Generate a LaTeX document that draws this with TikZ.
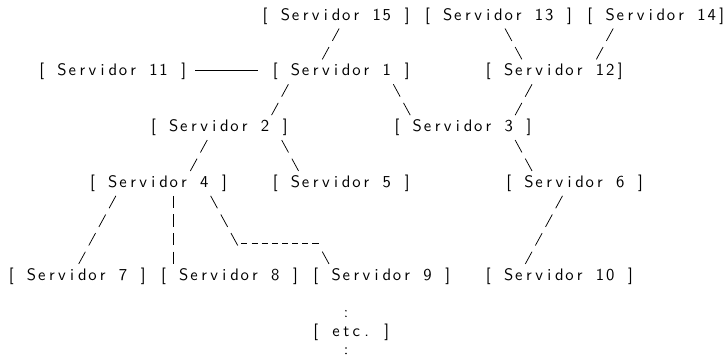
\documentclass[tikz,border=0pt]{standalone}
\usepackage{tikz}

% one fixed cell per character
\newlength\cellw
\setlength\cellw{6.09pt}
\def\cells#1{\cellsnext#1\relax}
\def\cellsnext#1{\ifx\relax#1\else\makebox[\cellw]{#1}\expandafter\cellsnext\fi}

\begin{document}
\begin{tikzpicture}[x=6.09pt, y=-11.16pt, every node/.style={font=\sffamily, inner sep=0pt, anchor=west}, slash/.style={line width=0.45pt, dash pattern=on 8.48pt off 4.24pt}, bar/.style={line width=0.45pt, dash pattern=on 7.44pt off 3.72pt}, hyph/.style={line width=0.45pt, dash pattern=on 3.65pt off 2.44pt}, colon/.style={line width=1pt, line cap=round, dash pattern=on 0pt off 3.3pt}]
	\useasboundingbox (-1.084,-0.86) rectangle (70.54,18.23);
	\node (s15) at (24.5,0) {\cells{[~Servidor~15~]}};
	\node (s13) at (40.5,0) {\cells{[~Servidor~13~]}};
	\node (s14) at (56.5,0) {\cells{[~Servidor~14]}};
	\node (s11) at (2.5,3) {\cells{[~Servidor~11~]}};
	\node (s1) at (25.5,3) {\cells{[~Servidor~1~]}};
	\node (s12) at (46.5,3) {\cells{[~Servidor~12]}};
	\node (s2) at (13.5,6) {\cells{[~Servidor~2~]}};
	\node (s3) at (37.5,6) {\cells{[~Servidor~3~]}};
	\node (s4) at (7.5,9) {\cells{[~Servidor~4~]}};
	\node (s5) at (25.5,9) {\cells{[~Servidor~5~]}};
	\node (s6) at (48.5,9) {\cells{[~Servidor~6~]}};
	\node (s7) at (-0.5,14) {\cells{[~Servidor~7~]}};
	\node (s8) at (14.5,14) {\cells{[~Servidor~8~]}};
	\node (s9) at (29.5,14) {\cells{[~Servidor~9~]}};
	\node (s10) at (46.5,14) {\cells{[~Servidor~10~]}};
	\node (etc) at (29.5,17) {\cells{[~etc.~]}};
	\coordinate (more) at (33,18.15);
	% slanted links
	\foreach \a/\ax/\ay/\b/\bx/\by in {s15/7.83/0.67/s1/5.17/-0.67, s13/8.17/0.67/s12/3.83/-0.67, s14/2.83/0.67/s12/11.17/-0.67, s1/1.83/0.67/s2/12.17/-0.67, s1/12.17/0.67/s3/1.83/-0.67, s12/4.83/0.67/s3/12.17/-0.67, s2/5.83/0.67/s4/10.17/-0.67, s2/13.17/0.67/s5/2.83/-0.67, s3/12.17/0.67/s6/2.83/-0.67, s4/2.83/0.67/s7/7.17/-0.67, s6/5.83/0.67/s10/4.17/-0.67} {\draw[slash] ([shift={(\ax,\ay)}]\a.west) -- ([shift={(\bx,\by)}]\b.west);}
	\draw[line width=0.45pt] ([shift={(0.6,-0.1)}]s11.east) -- ([shift={(-1.2,-0.1)}]s1.west);
	\draw[bar] ([shift={(8.5,0.67)}]s4.west) -- ([shift={(1.5,-0.67)}]s8.west);
	% s4 to s9 with a step
	\draw[slash] ([shift={(12.17,0.67)}]s4.west) -- ++(2.67,2.67);
	\draw[hyph] ([shift={(15.2,3.2)}]s4.west) -- ++(7.6,0);
	\draw[slash] ([shift={(1.17,-1.33)}]s9.west) -- ([shift={(1.83,-0.67)}]s9.west);
	% dots
	\draw[colon] ([shift={(3.5,1.85)}]s9.west) -- ([shift={(3.5,-0.85)}]etc.west);
	\draw[colon] ([shift={(3.5,0.85)}]etc.west) -- (more);
\end{tikzpicture}
\end{document}
